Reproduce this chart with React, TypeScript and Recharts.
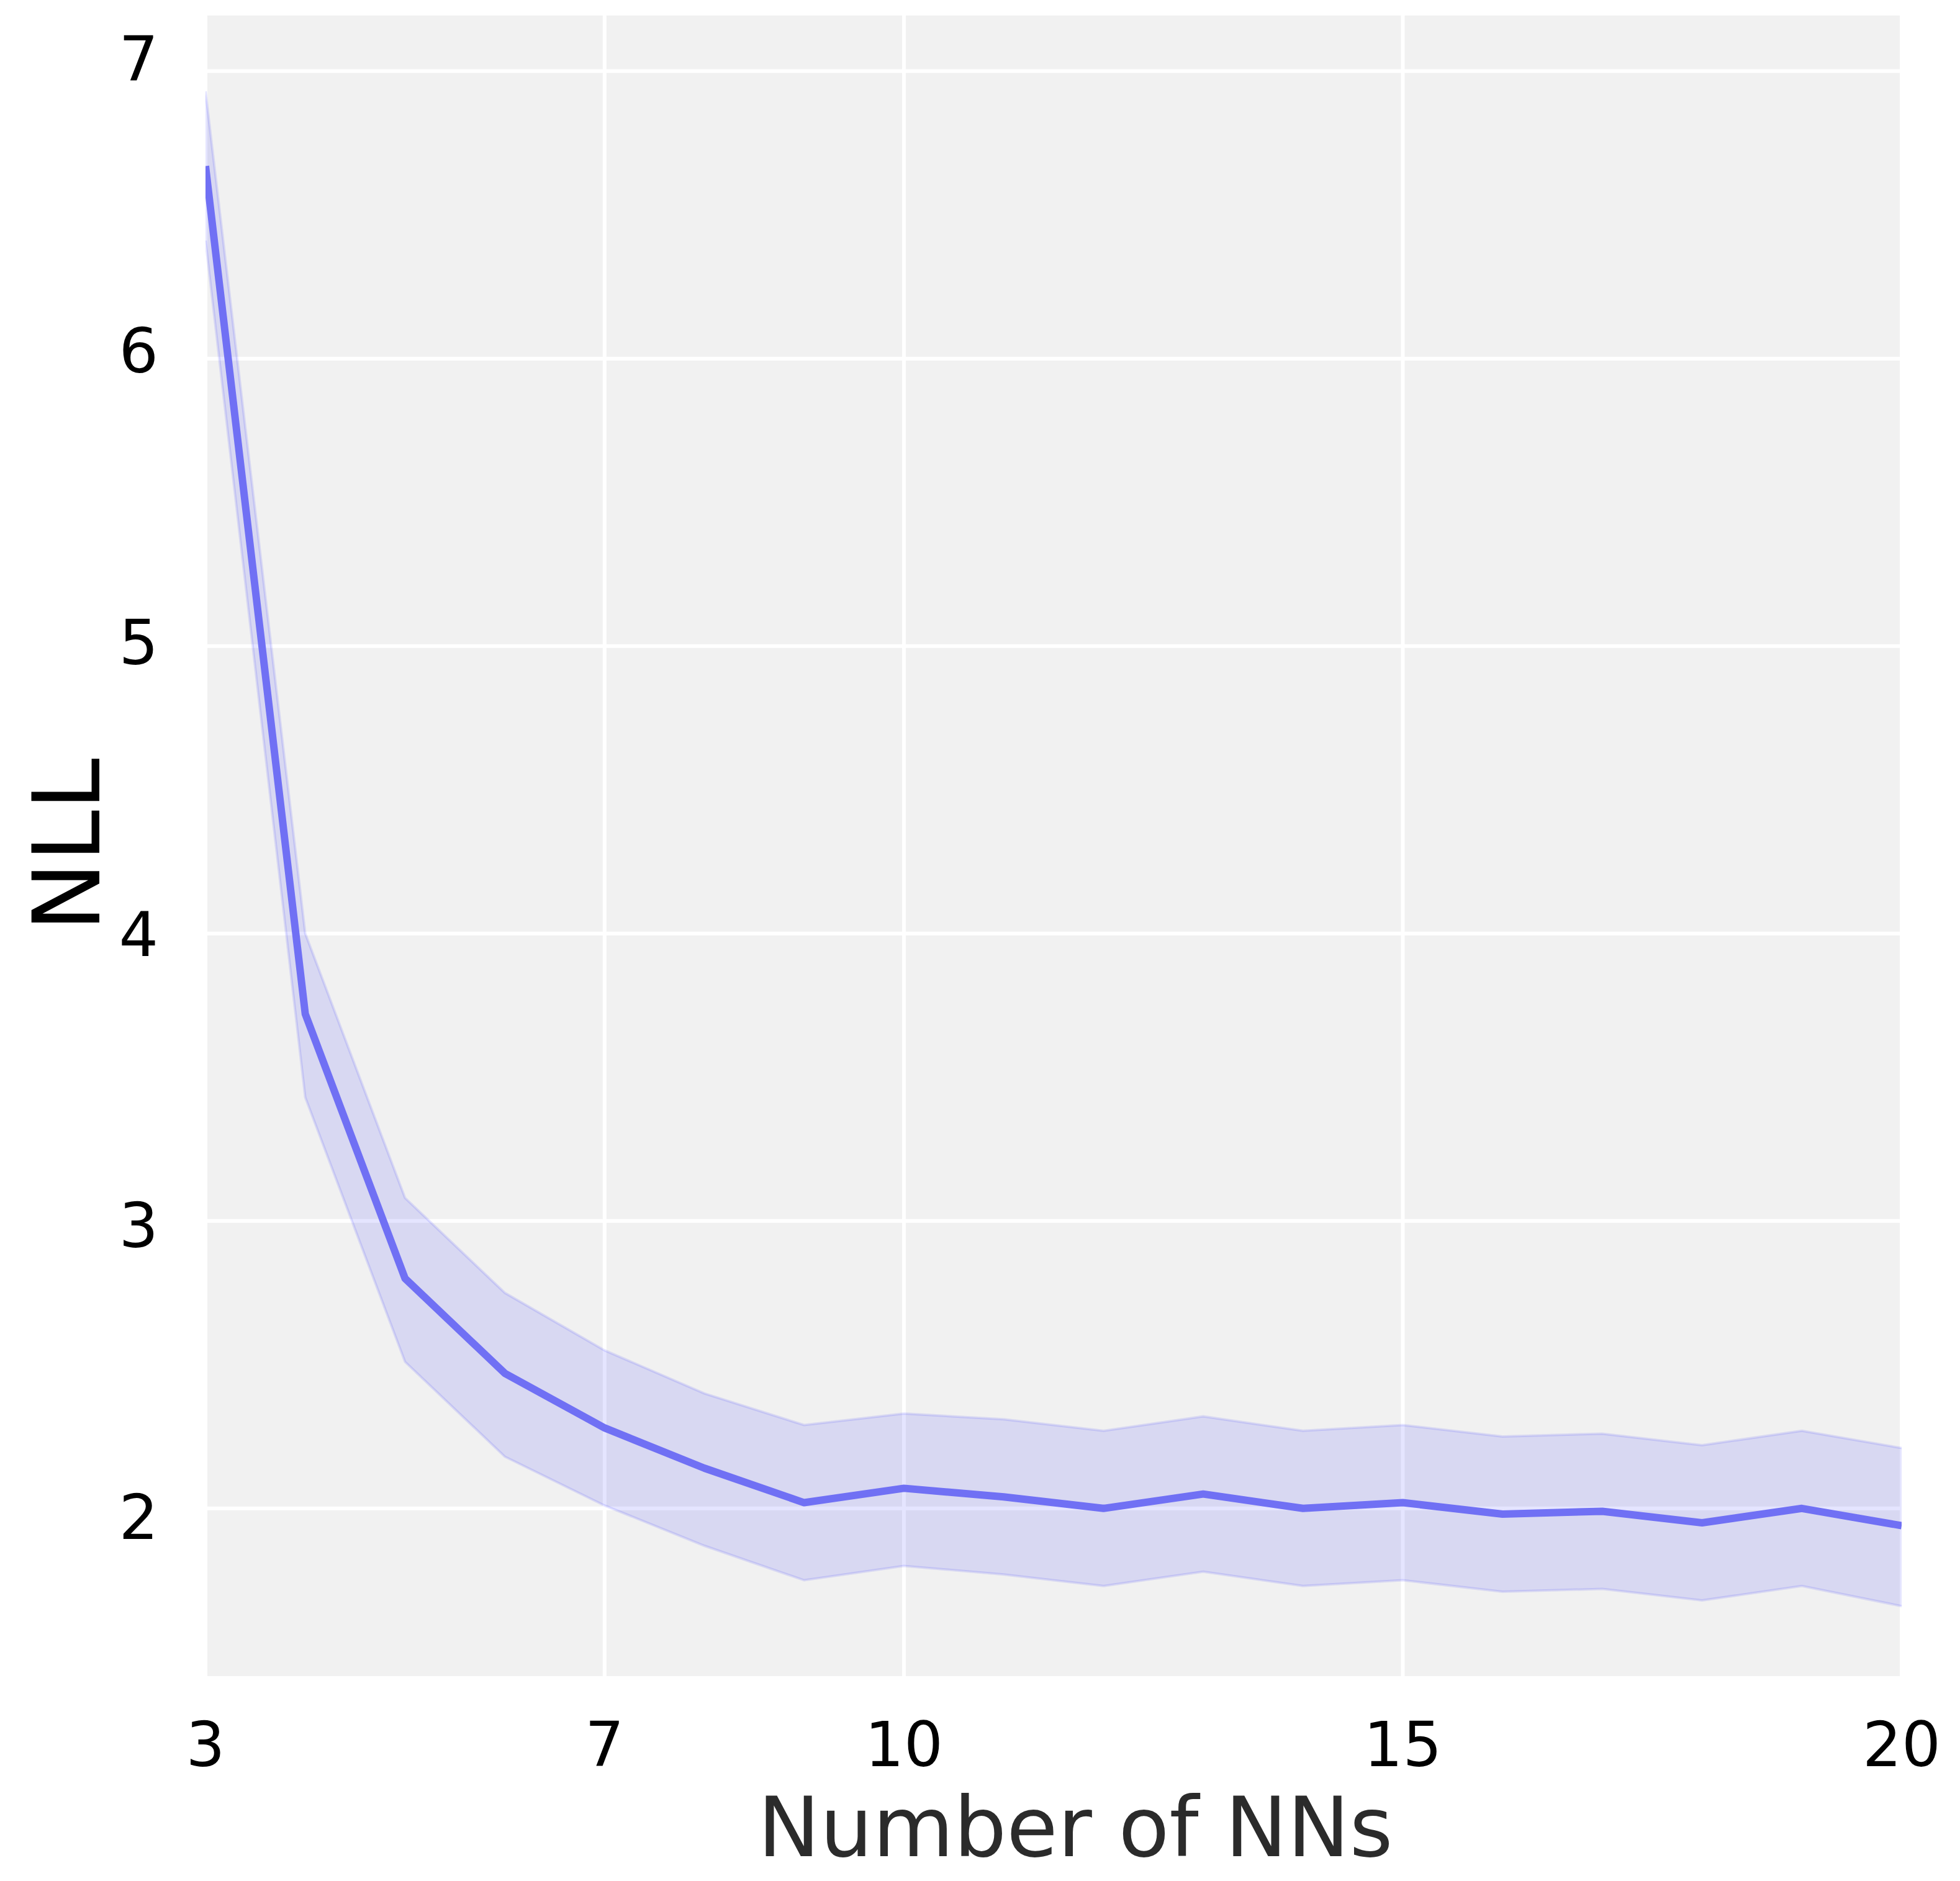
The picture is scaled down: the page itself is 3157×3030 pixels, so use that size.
import React from "react";
import {
  Area,
  CartesianGrid,
  ComposedChart,
  Label,
  Line,
  XAxis,
  YAxis,
} from "recharts";

// NLL vs number of ensemble members, mean with a ±1 std band
const nnCounts = [3, 4, 5, 6, 7, 8, 9, 10, 11, 12, 13, 14, 15, 16, 17, 18, 19, 20];
const meanNll = [6.67, 3.72, 2.8, 2.47, 2.28, 2.14, 2.02, 2.07, 2.04, 2.0, 2.05, 2.0, 2.02, 1.98, 1.99, 1.95, 2.0, 1.94];
const upperNll = [6.93, 4.0, 3.08, 2.75, 2.55, 2.4, 2.29, 2.33, 2.31, 2.27, 2.32, 2.27, 2.29, 2.25, 2.26, 2.22, 2.27, 2.21];
const lowerNll = [6.41, 3.43, 2.51, 2.18, 2.01, 1.87, 1.75, 1.8, 1.77, 1.73, 1.78, 1.73, 1.75, 1.71, 1.72, 1.68, 1.73, 1.66];

const xTicks = [3, 7, 10, 15, 20];
const yTicks = [2, 3, 4, 5, 6, 7];

const rows = nnCounts.map((n, i) => ({
  n,
  mean: meanNll[i],
  lower: lowerNll[i],
  upper: upperNll[i],
  band: [lowerNll[i], upperNll[i]],
}));

const FONT = "'DejaVu Sans', sans-serif";
const LINE = "#7070f4";

// the source figure's y labels drift slightly off their gridlines (top ones sit higher)
function YTick({ x, y, payload }: { x?: number; y?: number; payload?: { value: number } }) {
  const v = payload?.value ?? 0;
  const shift = -20 + (7 - v) * 6.8;
  return (
    <text
      x={x}
      y={(y ?? 0) + shift}
      dy="0.355em"
      textAnchor="end"
      fontSize={100}
      fontFamily={FONT}
      fill="#000000"
    >
      {v}
    </text>
  );
}

export default function App() {
  return (
    <ComposedChart
      width={3140}
      height={3020}
      data={rows}
      margin={{ top: 14, right: 85, left: 0, bottom: 0 }}
    >
      <CartesianGrid fill="#f1f1f1" stroke="#ffffff" strokeWidth={6} />
      <XAxis
        dataKey="n"
        type="number"
        domain={[3, 20]}
        ticks={xTicks}
        allowDataOverflow
        height={325}
        axisLine={false}
        tickLine={false}
        tickSize={0}
        tickMargin={72}
        tick={{ fontSize: 99, fill: "#000000", fontFamily: FONT }}
      >
        <Label
          content={() => (
            <text
              x={1724}
              y={2982}
              textAnchor="middle"
              fontSize={134}
              fontFamily={FONT}
              fill="#2b2b2b"
            >
              Number of NNs
            </text>
          )}
        />
      </XAxis>
      <YAxis
        type="number"
        domain={[1.41, 7.2]}
        ticks={yTicks}
        allowDataOverflow
        width={323}
        axisLine={false}
        tickLine={false}
        tickSize={0}
        tickMargin={76}
        tick={<YTick />}
      >
        <Label
          content={() => (
            <text
              x={152}
              y={1353}
              transform="rotate(-90, 152, 1353)"
              textAnchor="middle"
              fontSize={150}
              fontFamily={FONT}
              fill="#000000"
            >
              NLL
            </text>
          )}
        />
      </YAxis>
      <Area
        dataKey="band"
        type="linear"
        fill="#0000ff"
        fillOpacity={0.1}
        stroke="none"
        isAnimationActive={false}
      />
      <Line
        dataKey="upper"
        type="linear"
        stroke="#0000ff"
        strokeOpacity={0.1}
        strokeWidth={4}
        dot={false}
        activeDot={false}
        isAnimationActive={false}
      />
      <Line
        dataKey="lower"
        type="linear"
        stroke="#0000ff"
        strokeOpacity={0.1}
        strokeWidth={4}
        dot={false}
        activeDot={false}
        isAnimationActive={false}
      />
      <Line
        dataKey="mean"
        type="linear"
        stroke={LINE}
        strokeWidth={12}
        strokeLinejoin="round"
        dot={false}
        activeDot={false}
        isAnimationActive={false}
      />
    </ComposedChart>
  );
}
